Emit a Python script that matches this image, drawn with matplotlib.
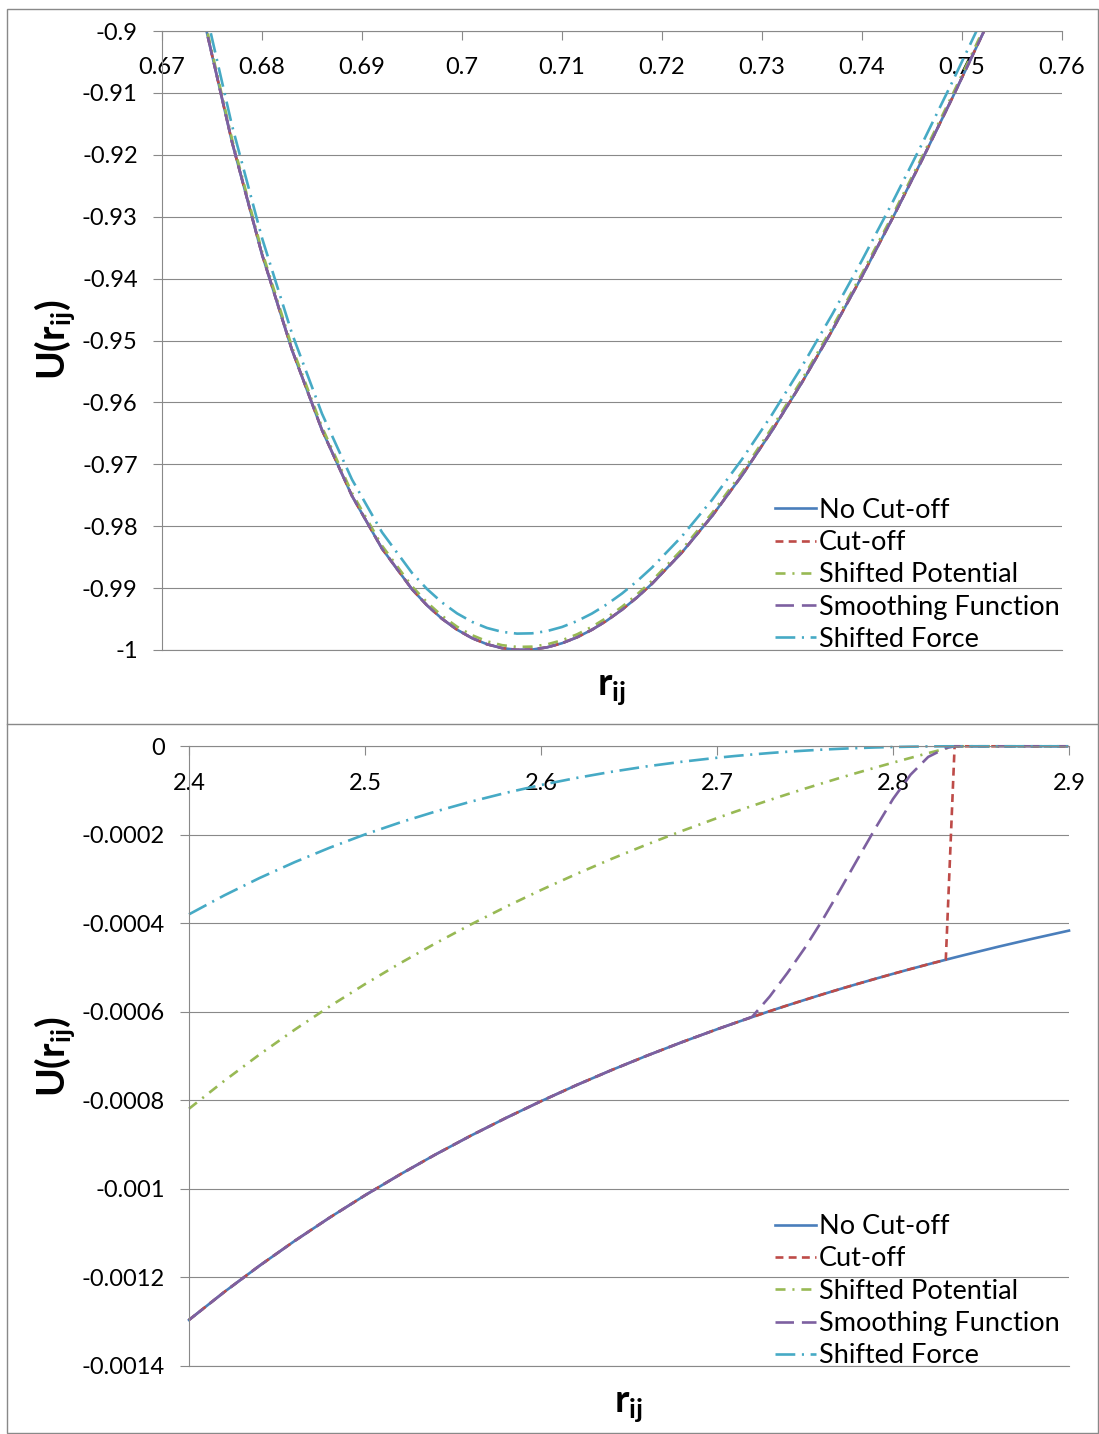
import matplotlib
matplotlib.use("Agg")
from matplotlib import pyplot as plt
from matplotlib.ticker import MultipleLocator, FuncFormatter
from matplotlib.patches import Rectangle
from matplotlib.lines import Line2D

plt.rcParams['font.family'] = ['Lato', 'DejaVu Sans']
plt.rcParams['mathtext.fontset'] = 'custom'
plt.rcParams['mathtext.rm'] = 'Lato'
plt.rcParams['mathtext.bf'] = 'Lato:bold'
plt.rcParams['mathtext.it'] = 'Lato:italic'

# Daten: oberes Diagramm (Minimum)
r_top = [0.674, 0.677, 0.680, 0.683, 0.686, 0.689, 0.692, 0.695, 0.6965, 0.698, 0.6995,
         0.701, 0.7025, 0.704, 0.7055, 0.707, 0.7085, 0.710, 0.7115, 0.713, 0.7145, 0.716,
         0.7175, 0.719, 0.722, 0.725, 0.728, 0.731, 0.734, 0.737, 0.740, 0.743, 0.746,
         0.749, 0.752, 0.755]
nocut_top = [-0.896810, -0.917925, -0.936087, -0.951531, -0.964473, -0.975107, -0.983620,
             -0.990184, -0.992782, -0.994954, -0.996713, -0.998079, -0.999068, -0.999696,
             -0.999980, -0.999933, -0.999570, -0.998905, -0.997952, -0.996724, -0.995232,
             -0.993489, -0.991506, -0.989295, -0.984228, -0.978368, -0.971793, -0.964571,
             -0.956764, -0.948435, -0.939636, -0.930419, -0.920832, -0.910916, -0.900715,
             -0.890266]
cutoff_top = [-0.896810, -0.917925, -0.936087, -0.951531, -0.964473, -0.975107, -0.983620,
              -0.990184, -0.992782, -0.994954, -0.996713, -0.998079, -0.999068, -0.999696,
              -0.999980, -0.999933, -0.999570, -0.998905, -0.997952, -0.996724, -0.995232,
              -0.993489, -0.991506, -0.989295, -0.984228, -0.978368, -0.971793, -0.964571,
              -0.956764, -0.948435, -0.939636, -0.930419, -0.920832, -0.910916, -0.900715,
              -0.890266]
shiftpot_top = [-0.896333, -0.917448, -0.935610, -0.951054, -0.963996, -0.974630, -0.983143,
                -0.989707, -0.992305, -0.994477, -0.996236, -0.997602, -0.998591, -0.999219,
                -0.999503, -0.999456, -0.999093, -0.998428, -0.997475, -0.996247, -0.994755,
                -0.993012, -0.991029, -0.988818, -0.983751, -0.977891, -0.971316, -0.964094,
                -0.956287, -0.947958, -0.939159, -0.929942, -0.920355, -0.910439, -0.900238,
                -0.889789]
smooth_top = [-0.896810, -0.917925, -0.936087, -0.951531, -0.964473, -0.975107, -0.983620,
              -0.990184, -0.992782, -0.994954, -0.996713, -0.998079, -0.999068, -0.999696,
              -0.999980, -0.999933, -0.999570, -0.998905, -0.997952, -0.996724, -0.995232,
              -0.993489, -0.991506, -0.989295, -0.984228, -0.978368, -0.971793, -0.964571,
              -0.956764, -0.948435, -0.939636, -0.930419, -0.920832, -0.910916, -0.900715,
              -0.890266]
shiftforce_top = [-0.894151, -0.915269, -0.933434, -0.948881, -0.961826, -0.972463, -0.980979,
                  -0.987546, -0.990146, -0.992319, -0.994080, -0.995447, -0.996438, -0.997067,
                  -0.997353, -0.997307, -0.996946, -0.996283, -0.995331, -0.994105, -0.992614,
                  -0.990873, -0.988891, -0.986682, -0.981618, -0.975761, -0.969189, -0.961970,
                  -0.954166, -0.945840, -0.937044, -0.927830, -0.918246, -0.908333, -0.898135,
                  -0.887689]

# Daten: unteres Diagramm (Abschneideradius)
r_bot = [2.40, 2.42, 2.44, 2.46, 2.48, 2.50, 2.52, 2.54, 2.56, 2.58, 2.60, 2.62, 2.64, 2.66,
         2.68, 2.70, 2.71, 2.72, 2.73, 2.74, 2.75, 2.76, 2.77, 2.78, 2.79, 2.80, 2.81, 2.82,
         2.83, 2.835, 2.84, 2.86, 2.88, 2.90]
nocut_bot = [-0.0012959, -0.0012329, -0.0011736, -0.0011175, -0.0010645, -0.0010144,
             -0.0009671, -0.0009223, -0.0008799, -0.0008398, -0.0008018, -0.0007657,
             -0.0007316, -0.0006992, -0.0006685, -0.0006393, -0.0006253, -0.0006117,
             -0.0005983, -0.0005853, -0.0005727, -0.0005603, -0.0005483, -0.0005366,
             -0.0005252, -0.0005140, -0.0005031, -0.0004925, -0.0004822, -0.0004771,
             -0.0004721, -0.0004526, -0.0004341, -0.0004164]
cutoff_bot = [-0.0012959, -0.0012329, -0.0011736, -0.0011175, -0.0010645, -0.0010144,
              -0.0009671, -0.0009223, -0.0008799, -0.0008398, -0.0008018, -0.0007657,
              -0.0007316, -0.0006992, -0.0006685, -0.0006393, -0.0006253, -0.0006117,
              -0.0005983, -0.0005853, -0.0005727, -0.0005603, -0.0005483, -0.0005366,
              -0.0005252, -0.0005140, -0.0005031, -0.0004925, -0.0004822, 0.0,
              0.0, 0.0, 0.0, 0.0]
shiftpot_bot = [-0.0008188, -0.0007559, -0.0006965, -0.0006404, -0.0005874, -0.0005373,
                -0.0004900, -0.0004452, -0.0004028, -0.0003627, -0.0003247, -0.0002887,
                -0.0002545, -0.0002221, -0.0001914, -0.0001622, -0.0001482, -0.0001346,
                -0.0001212, -0.0001083, -0.0000956, -0.0000833, -0.0000712, -0.0000595,
                -0.0000481, -0.0000369, -0.0000261, -0.0000154, -0.0000051, 0.0,
                0.0, 0.0, 0.0, 0.0]
smooth_bot = [-0.0012959, -0.0012329, -0.0011736, -0.0011175, -0.0010645, -0.0010144,
              -0.0009671, -0.0009223, -0.0008799, -0.0008398, -0.0008018, -0.0007657,
              -0.0007316, -0.0006992, -0.0006685, -0.0006393, -0.0006253, -0.000611,
              -0.000565, -0.000512, -0.000455, -0.000392, -0.000324, -0.000254,
              -0.000185, -0.000119, -0.000064, -0.000024, -0.000004, 0.0,
              0.0, 0.0, 0.0, 0.0]
shiftforce_bot = [-0.0003796, -0.0003369, -0.0002977, -0.0002618, -0.0002290, -0.0001991,
                  -0.0001720, -0.0001474, -0.0001252, -0.0001052, -0.0000874, -0.0000716,
                  -0.0000576, -0.0000454, -0.0000349, -0.0000259, -0.0000220, -0.0000185,
                  -0.0000152, -0.0000123, -0.0000098, -0.0000075, -0.0000056, -0.0000040,
                  -0.0000026, -0.0000016, -0.0000008, -0.0000003, 0.0, 0.0,
                  0.0, 0.0, 0.0, 0.0]

labels = ["No Cut-off", "Cut-off", "Shifted Potential", "Smoothing Function", "Shifted Force"]
colors = ["#4A7EBB", "#BE4B48", "#98B954", "#7D60A0", "#46AAC5"]
styles = ["-", (0, (3.0, 2.0)), (0, (3.8, 2.6, 0.8, 2.6)), (0, (7.0, 3.0)), (0, (7.5, 2.5, 0.8, 2.5))]
grey = "#898989"

W, H = 1099, 1434
fig = plt.figure(figsize=(W / 100, H / 100), dpi=100)


def fmt(v, pos):
    if abs(v) < 1e-12:
        return "0"
    return "%g" % v


def panel(rect, x, series, xlim, ylim, xstep, ystep, clip, leg_anchor):
    ax = fig.add_axes(rect)
    for s, lab, c, ls in zip(series, labels, colors, styles):
        ax.plot(x, s, color=c, ls=ls, lw=1.9, label=lab, clip_on=clip)
    ax.set_xlim(xlim)
    ax.set_ylim(ylim)
    ax.xaxis.set_major_locator(MultipleLocator(xstep))
    ax.yaxis.set_major_locator(MultipleLocator(ystep))
    ax.xaxis.set_major_formatter(FuncFormatter(fmt))
    ax.yaxis.set_major_formatter(FuncFormatter(fmt))
    ax.grid(axis="y", color=grey, lw=0.8)
    ax.set_axisbelow(True)
    ax.spines["right"].set_visible(False)
    for side in ["left", "top", "bottom"]:
        ax.spines[side].set_color(grey)
        ax.spines[side].set_linewidth(0.8)
    ax.tick_params(axis="x", top=True, bottom=False, labeltop=True, labelbottom=False,
                   direction="in", length=6.5, width=0.8, color=grey, pad=-34, labelsize=17)
    ax.tick_params(axis="y", direction="out", length=6.5, width=0.8, color=grey, pad=11,
                   labelsize=17)
    ax.legend(loc="upper left", bbox_to_anchor=leg_anchor, frameon=False, fontsize=19.5,
              handlelength=1.5, handletextpad=0.12, labelspacing=0.27, borderpad=0,
              borderaxespad=0)
    return ax


ax1 = panel([162 / W, 1 - 650 / H, 900 / W, 619 / H], r_top,
            [nocut_top, cutoff_top, shiftpot_top, smooth_top, shiftforce_top],
            (0.67, 0.76), (-1.0, -0.9), 0.01, 0.01, True, (0.681, 0.246))
ax2 = panel([189 / W, 1 - 1366 / H, 880 / W, 619.7 / H], r_bot,
            [nocut_bot, cutoff_bot, shiftpot_bot, smooth_bot, shiftforce_bot],
            (2.4, 2.9), (-0.0014, 0.0), 0.1, 0.0002, False, (0.666, 0.245))

# Achsenbeschriftungen
fig.text(55 / W, 1 - 340 / H, r"$\mathbf{U(r_{ij})}$", rotation=90, ha="center", va="center", fontsize=28)
fig.text(55 / W, 1 - 1057 / H, r"$\mathbf{U(r_{ij})}$", rotation=90, ha="center", va="center", fontsize=28)
fig.text(612 / W, 1 - 689 / H, r"$\mathbf{r_{ij}}$", ha="center", va="center", fontsize=28)
fig.text(629 / W, 1 - 1406 / H, r"$\mathbf{r_{ij}}$", ha="center", va="center", fontsize=28)

# Rahmen und Trennlinie
fig.add_artist(Rectangle((6.5 / W, 1 - 1433 / H), (1098 - 6.5) / W, (1433 - 8.5) / H,
                         transform=fig.transFigure, fill=False, ec=grey, lw=1.0))
fig.add_artist(Line2D([6.5 / W, 1.0], [1 - 724 / H, 1 - 724 / H], transform=fig.transFigure,
                      color=grey, lw=1.0))

fig.savefig("out.png", dpi=100)
